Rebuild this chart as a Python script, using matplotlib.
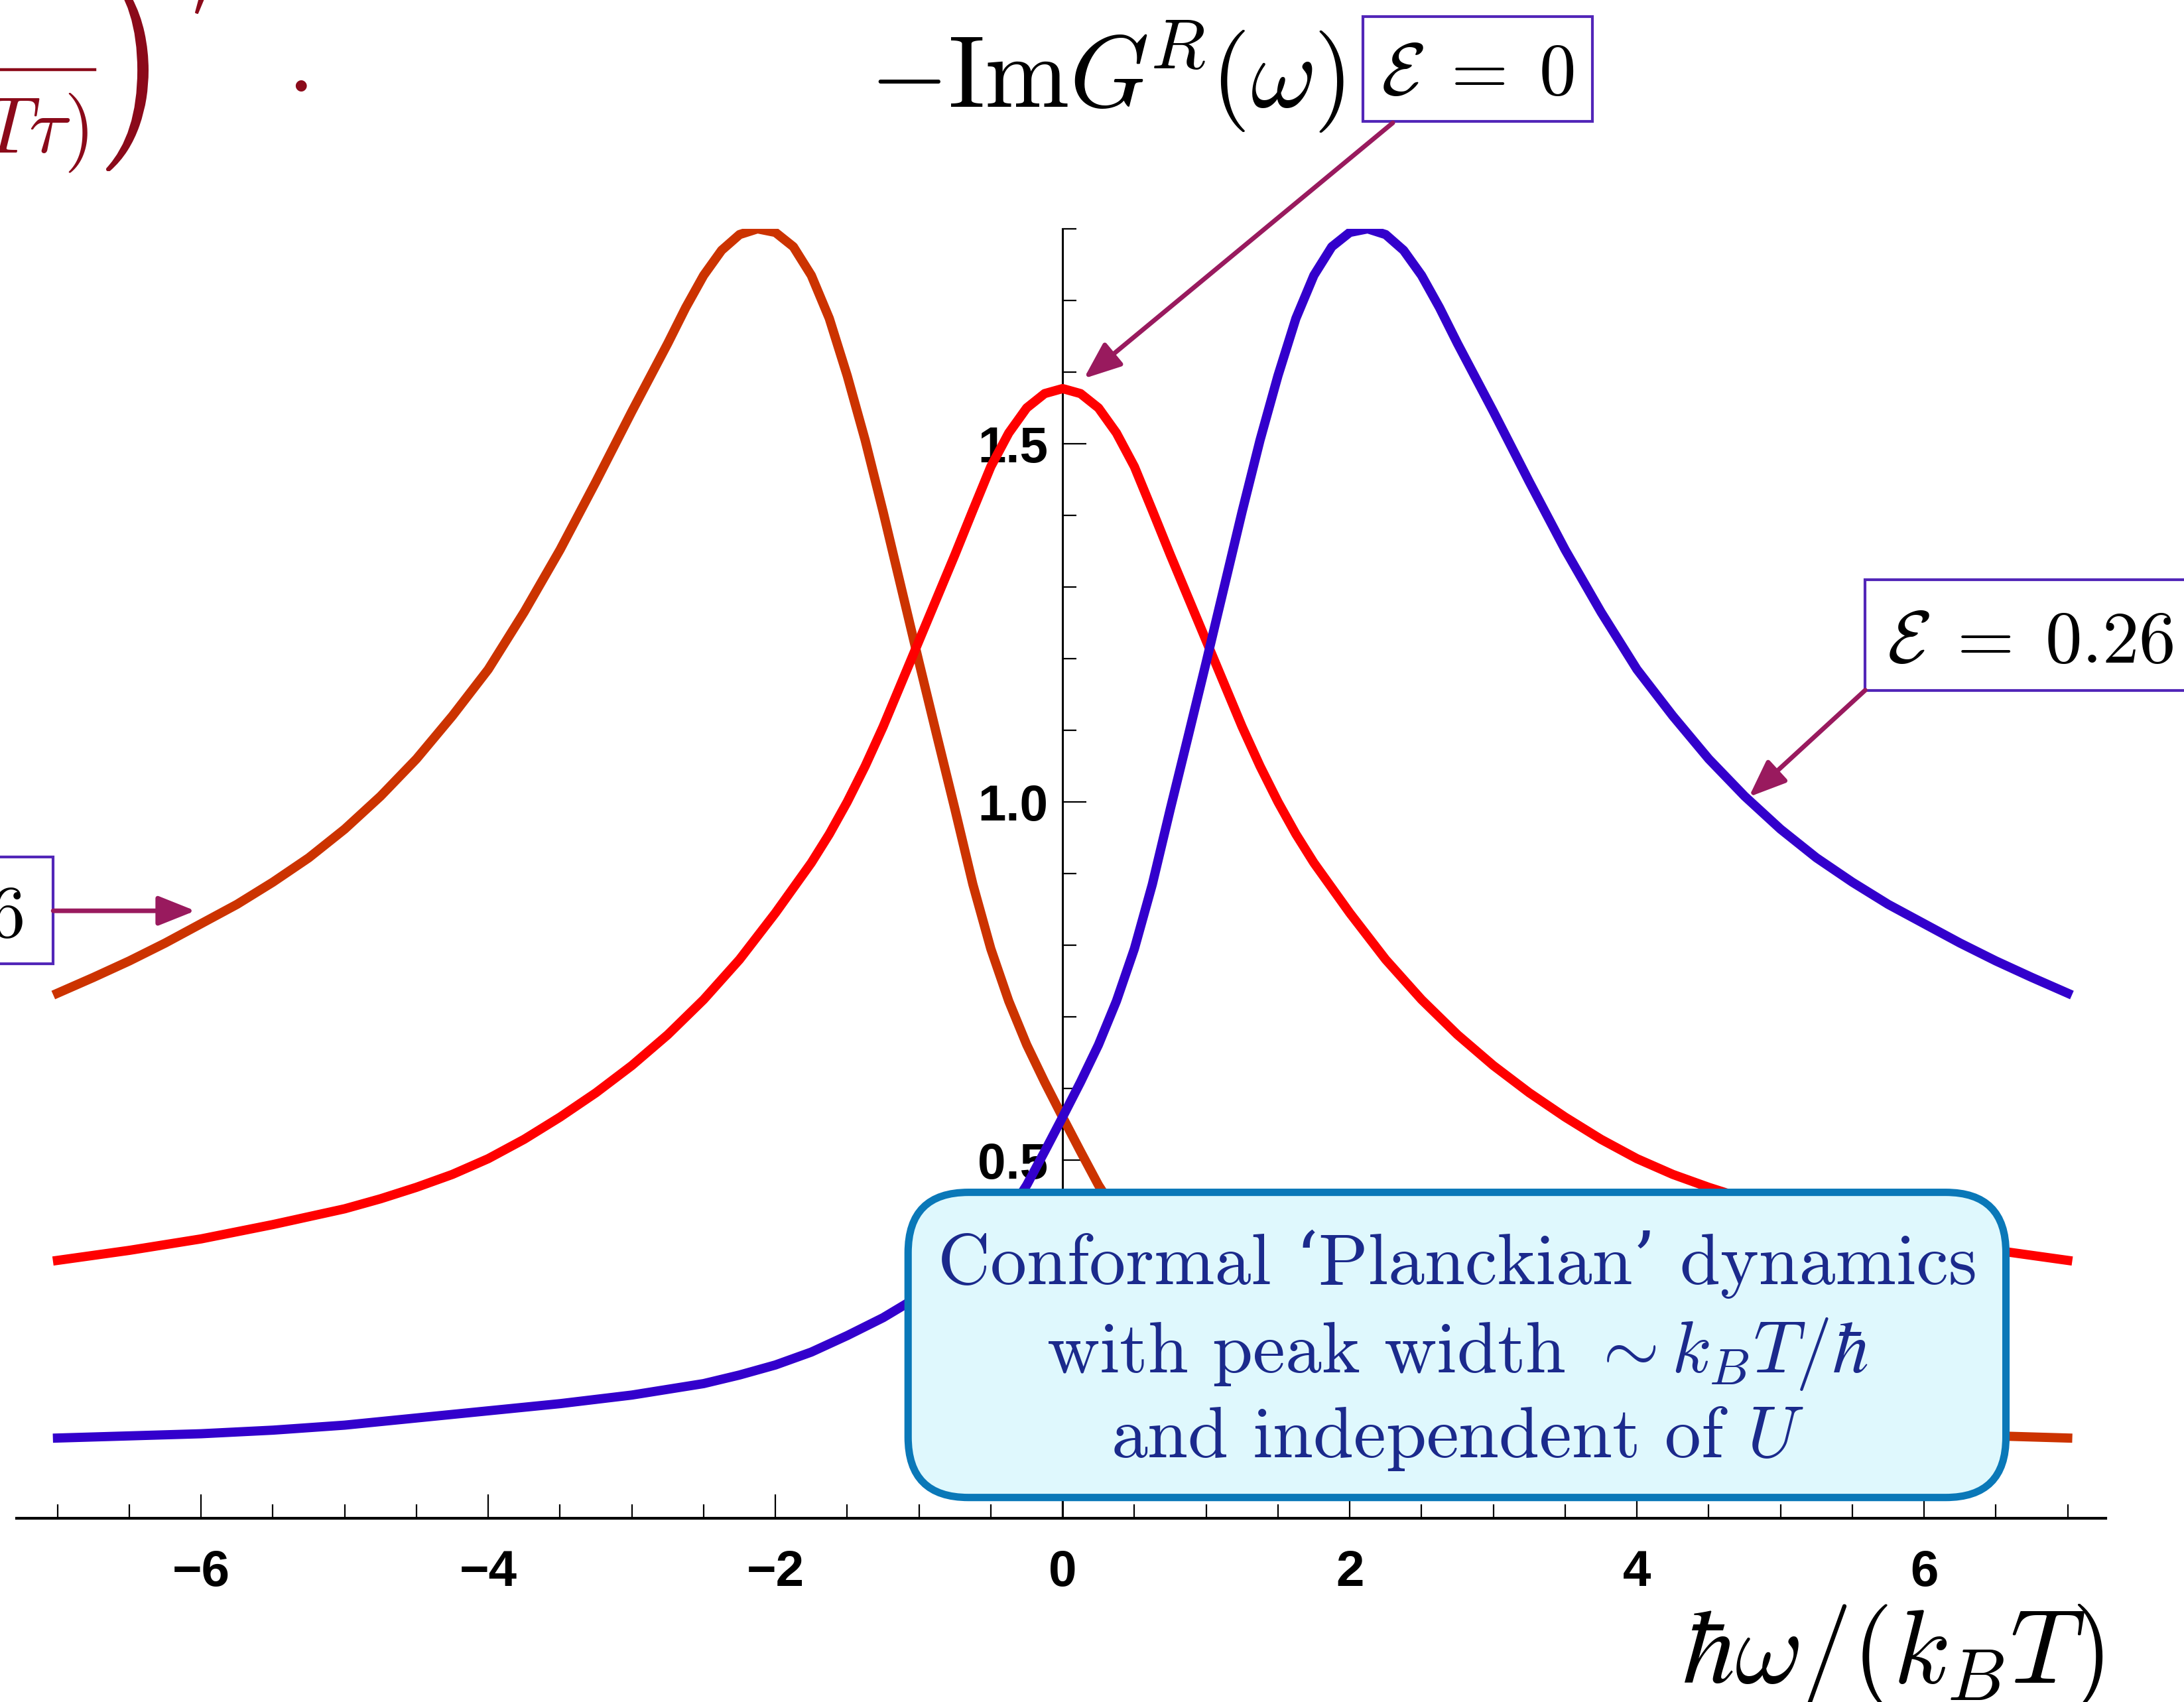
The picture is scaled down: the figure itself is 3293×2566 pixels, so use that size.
import matplotlib

matplotlib.use("Agg")

import matplotlib.pyplot as plt
from matplotlib.font_manager import FontProperties
from matplotlib.lines import Line2D
from matplotlib.patches import FancyBboxPatch, PathPatch, Rectangle
from matplotlib.textpath import TextPath
from matplotlib.ticker import FixedLocator, MultipleLocator
from matplotlib.transforms import Affine2D, IdentityTransform

plt.rcParams["mathtext.fontset"] = "cm"
plt.rcParams["font.family"] = ["cmr10", "DejaVu Serif"]
plt.rcParams["axes.unicode_minus"] = True

# -Im G^R(w), three values of the spectral asymmetry E
blue_x = [-7, -6.5, -6, -5.5, -5, -4.75, -4.5, -4.25, -4, -3.75,
          -3.5, -3.25, -3, -2.75, -2.5, -2.25, -2, -1.75, -1.5, -1.25,
          -1, -0.75, -0.5, -0.375, -0.25, -0.125, 0, 0.125, 0.25, 0.375,
          0.5, 0.625, 0.75, 0.875, 1, 1.125, 1.25, 1.375, 1.5, 1.625,
          1.75, 1.875, 2, 2.125, 2.25, 2.375, 2.5, 2.625, 2.75, 3,
          3.25, 3.5, 3.75, 4, 4.25, 4.5, 4.75, 5, 5.25, 5.5,
          5.75, 6, 6.25, 6.5, 6.75, 7]
blue_y = [0.112, 0.115, 0.118, 0.123, 0.130, 0.135, 0.140, 0.145, 0.150, 0.155,
          0.160, 0.166, 0.172, 0.180, 0.188, 0.200, 0.214, 0.232, 0.255, 0.280,
          0.310, 0.350, 0.398, 0.426, 0.465, 0.512, 0.560, 0.609, 0.661, 0.722,
          0.795, 0.885, 0.990, 1.092, 1.195, 1.300, 1.405, 1.505, 1.595, 1.675,
          1.735, 1.775, 1.795, 1.800, 1.792, 1.770, 1.735, 1.690, 1.640, 1.545,
          1.447, 1.352, 1.265, 1.185, 1.120, 1.060, 1.008, 0.962, 0.922, 0.888,
          0.857, 0.830, 0.803, 0.778, 0.755, 0.733]   # E = 0.26

orange_x = [-7, -6.75, -6.5, -6.25, -6, -5.75, -5.5, -5.25, -5, -4.75,
            -4.5, -4.25, -4, -3.75, -3.5, -3.25, -3, -2.75, -2.625, -2.5,
            -2.375, -2.25, -2.125, -2, -1.875, -1.75, -1.625, -1.5, -1.375, -1.25,
            -1.125, -1, -0.875, -0.75, -0.625, -0.5, -0.375, -0.25, -0.125, 0,
            0.125, 0.25, 0.375, 0.5, 0.75, 1, 1.25, 1.5, 1.75, 2,
            2.25, 2.5, 2.75, 3, 3.25, 3.5, 3.75, 4, 4.25, 4.5,
            4.75, 5, 5.5, 6, 6.5, 7]
orange_y = [0.733, 0.755, 0.778, 0.803, 0.830, 0.857, 0.888, 0.922, 0.962, 1.008,
            1.060, 1.120, 1.185, 1.265, 1.352, 1.447, 1.545, 1.640, 1.690, 1.735,
            1.770, 1.792, 1.800, 1.795, 1.775, 1.735, 1.675, 1.595, 1.505, 1.405,
            1.300, 1.195, 1.092, 0.990, 0.885, 0.795, 0.722, 0.661, 0.609, 0.560,
            0.512, 0.465, 0.426, 0.398, 0.350, 0.310, 0.280, 0.255, 0.232, 0.214,
            0.200, 0.188, 0.180, 0.172, 0.166, 0.160, 0.155, 0.150, 0.145, 0.140,
            0.135, 0.130, 0.123, 0.118, 0.115, 0.112]   # E = -0.26

red_x = [-7, -6.5, -6, -5.5, -5, -4.75, -4.5, -4.25, -4, -3.75,
         -3.5, -3.25, -3, -2.75, -2.5, -2.25, -2, -1.75, -1.625, -1.5,
         -1.375, -1.25, -1.125, -1, -0.875, -0.75, -0.625, -0.5, -0.375, -0.25,
         -0.125, 0, 0.125, 0.25, 0.375, 0.5, 0.625, 0.75, 0.875, 1,
         1.125, 1.25, 1.375, 1.5, 1.625, 1.75, 2, 2.25, 2.5, 2.75,
         3, 3.25, 3.5, 3.75, 4, 4.25, 4.5, 4.75, 5, 5.5,
         6, 6.5, 7]
red_y = [0.360, 0.374, 0.390, 0.410, 0.432, 0.446, 0.462, 0.480, 0.502, 0.529,
         0.560, 0.594, 0.632, 0.675, 0.724, 0.780, 0.845, 0.915, 0.955, 1.000,
         1.050, 1.105, 1.165, 1.225, 1.285, 1.345, 1.407, 1.468, 1.515, 1.550,
         1.570, 1.577, 1.570, 1.550, 1.515, 1.468, 1.407, 1.345, 1.285, 1.225,
         1.165, 1.105, 1.050, 1.000, 0.955, 0.915, 0.845, 0.780, 0.724, 0.675,
         0.632, 0.594, 0.560, 0.529, 0.502, 0.480, 0.462, 0.446, 0.432, 0.410,
         0.390, 0.374, 0.360]   # E = 0

x_major = [-6, -4, -2, 0, 2, 4, 6]
y_major = [0.5, 1.0, 1.5]

W, H = 3293, 2566
fig = plt.figure(figsize=(W / 100, H / 100), dpi=100)
ax = fig.add_axes([25 / W, 1 - 2289 / H, 3150 / W, 1944 / H])
ax.set_xlim(-7.285, 7.265)
ax.set_ylim(0, 1.8)
ax.patch.set_visible(False)

for side in ("top", "right"):
    ax.spines[side].set_visible(False)
ax.spines["left"].set_position(("data", 0))
ax.spines["left"].set_linewidth(2.2)
ax.spines["bottom"].set_linewidth(3)

ax.xaxis.set_major_locator(FixedLocator(x_major))
ax.xaxis.set_minor_locator(MultipleLocator(0.5))
ax.yaxis.set_major_locator(FixedLocator(y_major))
ax.yaxis.set_minor_locator(MultipleLocator(0.1))
ax.tick_params(which="major", direction="in", length=26, width=1.6)
ax.tick_params(which="minor", direction="in", length=15, width=1.6)
ax.tick_params(axis="x", which="major", pad=34)
ax.tick_params(axis="y", which="major", pad=16)
for lab in ax.get_xticklabels() + ax.get_yticklabels():
    lab.set_fontfamily("Liberation Sans")
    lab.set_fontweight("bold")
    lab.set_fontsize(55)

ax.plot(orange_x, orange_y, color="#cc3300", lw=10, solid_joinstyle="round", zorder=3)
ax.plot(red_x, red_y, color="#ff0000", lw=10, solid_joinstyle="round", zorder=3)
ax.plot(blue_x, blue_y, color="#3300cc", lw=10, solid_joinstyle="round", zorder=3)

# callout box
box = FancyBboxPatch((-1.076, 0.029), 7.646, 0.426,
                     boxstyle="round,pad=0,rounding_size=0.42",
                     mutation_aspect=216.5 / 1080,
                     fc="#dff8fd", ec="#0a78b8", lw=8, zorder=6, clip_on=False)
ax.add_patch(box)
navy = "#1b2a8c"
ax.text(2.75, 0.327, "Conformal ‘Planckian’ dynamics", ha="center", va="baseline",
        fontsize=79, color=navy, zorder=7)
ax.text(2.75, 0.204, r"with peak width $\sim k_B T/\hbar$", ha="center", va="baseline",
        fontsize=79, color=navy, zorder=7)
ax.text(2.75, 0.085, r"and independent of $U$", ha="center", va="baseline",
        fontsize=79, color=navy, zorder=7)

# labelled boxes and arrows
edge = "#5226b8"
arrow_c = "#991a5e"
ax.add_patch(Rectangle((2.09, 1.95), 1.60, 0.146, fc="white", ec=edge, lw=3,
                       clip_on=False, zorder=8))
ax.text(2.89, 1.987, r"$\mathcal{E}\;=\;0$", ha="center", va="baseline", fontsize=80,
        zorder=9)
ax.add_patch(Rectangle((5.59, 1.156), 2.5, 0.154, fc="white", ec=edge, lw=3,
                       clip_on=False, zorder=8))
ax.text(5.74, 1.194, r"$\mathcal{E}\;=\;0.26$", ha="left", va="baseline", fontsize=80,
        zorder=9)
ax.add_patch(Rectangle((-9.5, 0.774), 2.47, 0.149, fc="white", ec=edge, lw=3,
                       clip_on=False, zorder=8))
ax.text(-7.238, 0.811, r"$\mathcal{E}\;=\;-0.26$", ha="right", va="baseline", fontsize=80,
        zorder=9)

arrow_kw = dict(arrowstyle="-|>,head_length=0.55,head_width=0.22", color=arrow_c, lw=5,
                mutation_scale=62, shrinkA=0, shrinkB=0)
ax.annotate("", xy=(0.148, 1.591), xytext=(2.30, 1.948), arrowprops=arrow_kw,
            annotation_clip=False, zorder=8)
ax.annotate("", xy=(4.78, 1.007), xytext=(5.59, 1.156), arrowprops=arrow_kw,
            annotation_clip=False, zorder=8)
ax.annotate("", xy=(-6.04, 0.848), xytext=(-7.03, 0.848), arrowprops=arrow_kw,
            annotation_clip=False, zorder=8)

# title and axis label
ax.text(0.31, 1.969, r"$-\mathrm{Im}G^{\!R}(\omega)$", ha="center", va="baseline",
        fontsize=110)
ax.text(7.25, -0.23, r"$\hbar\omega/(k_BT)$", ha="right", va="baseline", fontsize=114)

# cut-off equation in the top-left corner (positions in output pixels)
dark_red = "#8b0a1a"
fig.text(133 / W, 1 - 230 / H, r"$\sinh(\pi T\tau)$", ha="right", va="baseline",
         fontsize=86, color=dark_red)
fig.add_artist(Line2D([0, 143 / W], [1 - 105 / H] * 2, transform=fig.transFigure,
                      lw=3.2, color=dark_red))
paren = TextPath((0, 0), ")", size=100, prop=FontProperties(family="cmr10"))
ext = paren.get_extents()
px0, px1, py0, py1 = 160, 224, H - 258, H + 46
tr = (Affine2D().translate(-ext.x0, -ext.y0)
      .scale((px1 - px0) / ext.width, (py1 - py0) / ext.height)
      .translate(px0, py0))
fig.add_artist(PathPatch(tr.transform_path(paren), transform=IdentityTransform(),
                         fc=dark_red, ec="none"))
fig.text(290 / W, 1 - 24 / H, r"$\prime$", ha="left", va="baseline", fontsize=76,
         color=dark_red)
fig.text(432 / W, 1 - 138 / H, ".", ha="left", va="baseline", fontsize=110, color=dark_red)

fig.savefig("out.png", dpi=100)
